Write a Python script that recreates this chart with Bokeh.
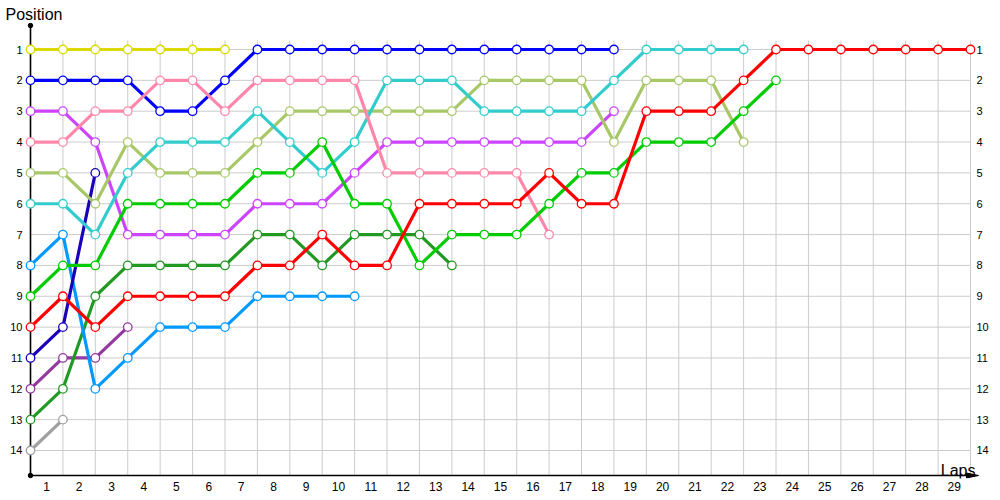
from bokeh.plotting import figure
from bokeh.models import Range1d, FixedTicker, LinearAxis
from bokeh.core.properties import value
from bokeh.embed import file_html
from bokeh.resources import INLINE

# ---------------- data ----------------
LAPS = list(range(0, 30))
POSITIONS = list(range(1, 15))
LAP_LABELS = [str(i) for i in range(1, 30)]
POS_LABELS = [str(i) for i in POSITIONS]

yellow = [1, 1, 1, 1, 1, 1, 1]
blue = [2, 2, 2, 2, 3, 3, 2, 1, 1, 1, 1, 1, 1, 1, 1, 1, 1, 1, 1]
purple = [3, 3, 4, 7, 7, 7, 7, 6, 6, 6, 5, 4, 4, 4, 4, 4, 4, 4, 3]
pink = [4, 4, 3, 3, 2, 2, 3, 2, 2, 2, 2, 5, 5, 5, 5, 5, 7]
olive = [5, 5, 6, 4, 5, 5, 5, 4, 3, 3, 3, 3, 3, 3, 2, 2, 2, 2, 4, 2, 2, 2, 4]
cyan = [6, 6, 7, 5, 4, 4, 4, 3, 4, 5, 4, 2, 2, 2, 3, 3, 3, 3, 2, 1, 1, 1, 1]
lightblue = [8, 7, 12, 11, 10, 10, 10, 9, 9, 9, 9]
green = [9, 8, 8, 6, 6, 6, 6, 5, 5, 4, 6, 6, 8, 7, 7, 7, 6, 5, 5, 4, 4, 4, 3, 2]
darkgreen = [13, 12, 9, 8, 8, 8, 8, 7, 7, 8, 7, 7, 7, 8]
red = [10, 9, 10, 9, 9, 9, 9, 8, 8, 7, 8, 8, 6, 6, 6, 6, 5, 6, 6, 3, 3, 3, 2, 1, 1, 1, 1, 1, 1, 1]
navy = [11, 10, 5]
violet = [12, 11, 11, 10]
gray = [14, 13]

SERIES = [
    (gray, "#a0a0a0"),
    (violet, "#933a9e"),
    (darkgreen, "#229922"),
    (lightblue, "#0099ff"),
    (navy, "#1a00bb"),
    (yellow, "#dada00"),
    (blue, "#0000ff"),
    (purple, "#cc44ff"),
    (olive, "#a8c868"),
    (cyan, "#33cccc"),
    (pink, "#ff88aa"),
    (green, "#00cc00"),
    (red, "#ff0000"),
]

FONT = "Liberation Sans"
GRID = "#cccccc"

# layout geometry (pixels per unit: 32.414 per lap, 30.846 per position)
PX_LAP, PX_POS = 32.414, 30.846
X_START, X_END = -6 / PX_LAP, 29 + 10 / PX_LAP
Y_TOP, Y_BOT = 1 - 27 / PX_POS, 14 + 28 / PX_POS
AXIS_TOP = 1 - 24 / PX_POS
AXIS_Y = 14 + 25 / PX_POS
GRID_TOP = 1 - 9 / PX_POS
FIRST, LAST = LAPS[0], LAPS[-1]

p = figure(width=1000, height=500, output_backend="svg", toolbar_location=None,
           x_range=Range1d(X_START, X_END), y_range=Range1d(Y_BOT, Y_TOP),
           min_border_left=24, min_border_right=20, min_border_top=22,
           min_border_bottom=22, background_fill_color="white",
           border_fill_color="white", outline_line_color=None)

p.title.text = "Position"
p.title.align = "left"
p.title.offset = -19
p.title.standoff = 0
p.title.text_font = FONT
p.title.text_font_size = "16px"
p.title.text_font_style = "normal"
p.title.text_color = "black"

# axes (labels only; lines drawn below)
p.xaxis.ticker = FixedTicker(ticks=[i + 0.5 for i in range(len(LAP_LABELS))])
p.xaxis.major_label_overrides = {i + 0.5: LAP_LABELS[i] for i in range(len(LAP_LABELS))}
p.yaxis.ticker = FixedTicker(ticks=POSITIONS)
p.yaxis.major_label_overrides = {POSITIONS[i]: POS_LABELS[i] for i in range(len(POSITIONS))}

right = LinearAxis(ticker=FixedTicker(ticks=POSITIONS))
right.major_label_overrides = {POSITIONS[i]: POS_LABELS[i] for i in range(len(POSITIONS))}
p.add_layout(right, "right")

for ax in [p.xaxis[0], p.yaxis[0], right]:
    ax.axis_line_color = None
    ax.major_tick_line_color = None
    ax.minor_tick_line_color = None
    ax.major_tick_in = 0
    ax.major_tick_out = 0
    ax.minor_tick_in = 0
    ax.minor_tick_out = 0
    ax.major_label_text_font = FONT
    ax.major_label_text_color = "black"

p.xaxis.major_label_text_font_size = "12px"
p.xaxis.major_label_standoff = 3
p.yaxis.major_label_text_font_size = "11px"
p.yaxis.major_label_standoff = 2
right.major_label_text_font_size = "11px"
right.major_label_standoff = -4

# grid
p.xgrid.visible = False
p.ygrid.visible = False
p.segment(x0=LAPS, x1=LAPS, y0=[GRID_TOP] * len(LAPS), y1=[AXIS_Y] * len(LAPS),
          line_color=GRID, line_width=1)
p.segment(x0=[FIRST] * len(POSITIONS), x1=[LAST] * len(POSITIONS), y0=POSITIONS,
          y1=POSITIONS, line_color=GRID, line_width=1)

# axis lines with dots and arrow
p.segment(x0=[FIRST, FIRST], x1=[FIRST, LAST + 0.1], y0=[AXIS_TOP, AXIS_Y],
          y1=[AXIS_Y, AXIS_Y], line_color="black", line_width=1.6)
p.scatter([FIRST, FIRST], [AXIS_TOP, AXIS_Y], size=4.5, color="black")
p.patch(x=[LAST - 4 / PX_LAP, LAST + 8 / PX_LAP, LAST - 4 / PX_LAP],
        y=[AXIS_Y - 2.5 / PX_POS, AXIS_Y, AXIS_Y + 2.5 / PX_POS],
        fill_color="black", line_color="black", line_width=1)

# series
for vals, col in SERIES:
    xs = LAPS[:len(vals)]
    p.line(xs, vals, line_color=col, line_width=3.2)
    p.scatter(xs, vals, size=8.5, marker="circle", fill_color="white",
              line_color=col, line_width=1.3)

p.text(x=[LAST], y=[AXIS_Y], text=["Laps"], x_offset=5, y_offset=-5,
       text_align="right", text_baseline="alphabetic",
       text_font=value(FONT), text_font_size="16px", text_color="black")

open("out.html", "w").write(file_html(p, INLINE))
